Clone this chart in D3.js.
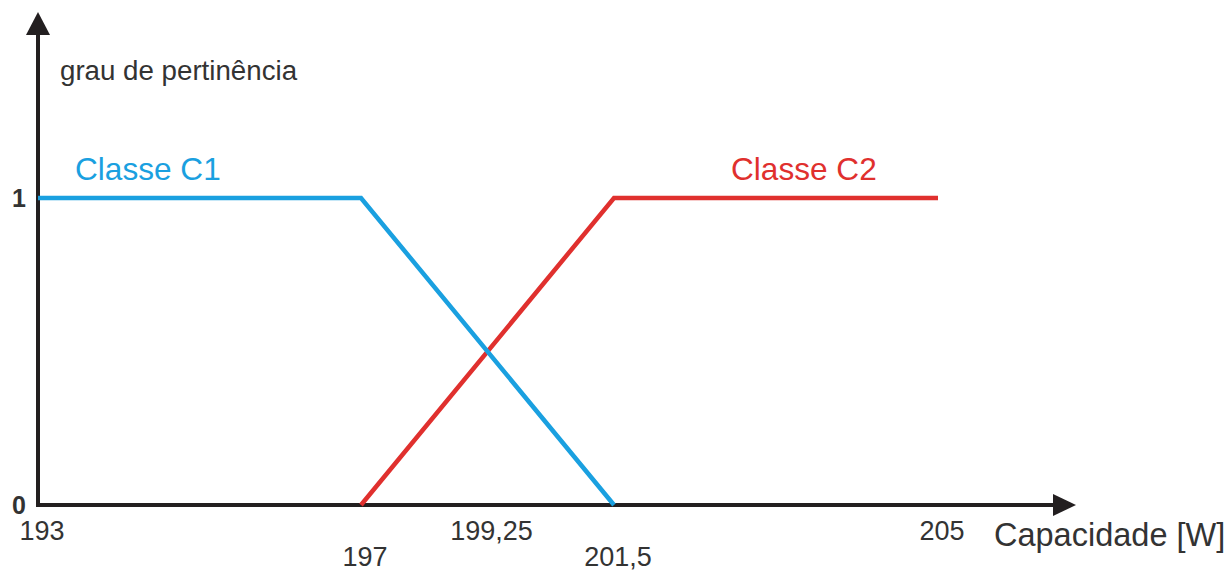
<!DOCTYPE html>
<html>
<head>
<meta charset="utf-8">
<script src="https://cdn.jsdelivr.net/npm/d3@7"></script>
<style>
  html, body { margin: 0; padding: 0; background: #fff; }
  svg { display: block; font-family: "Liberation Sans", Arial, sans-serif; }
</style>
</head>
<body>
<svg id="chart" width="1229" height="574"></svg>
<script>
// Fuzzy membership functions for the capacity classes
const xTicks = [193, 197, 199.25, 201.5, 205];
const xTickLabels = ["193", "197", "199,25", "201,5", "205"];
const yTicks = [0, 1];
const yTickLabels = ["0", "1"];

const classC1X = [193, 197, 201.5];
const classC1Y = [1, 1, 0];
const classC2X = [197, 201.5, 205];
const classC2Y = [0, 1, 1];

const seriesNames = ["Classe C1", "Classe C2"];
const xAxisTitle = "Capacidade [W]";
const yAxisTitle = "grau de pertinência";

const svg = d3.select("#chart");
const axisColor = "#231f20";
const textColor = "#333333";
const blue = "#1aa0e0";
const red = "#e0302e";

// Piecewise linear capacity axis (schematic, not proportional)
const x = d3.scaleLinear()
  .domain([193, 197, 201.5, 205])
  .range([38, 361, 614, 938]);
const y = d3.scaleLinear().domain([0, 1]).range([505, 198]);

const x0 = x(193), y0 = y(0);

// Axes with arrowheads
svg.append("line")
  .attr("x1", x0).attr("y1", y0 + 2)
  .attr("x2", x0).attr("y2", 32)
  .attr("stroke", axisColor).attr("stroke-width", 4);
svg.append("path")
  .attr("d", `M${x0},12 L${x0 + 12},35 L${x0 - 12},35 Z`)
  .attr("fill", axisColor);

svg.append("line")
  .attr("x1", x0 - 2).attr("y1", y0)
  .attr("x2", 1056).attr("y2", y0)
  .attr("stroke", axisColor).attr("stroke-width", 4);
svg.append("path")
  .attr("d", `M1076,${y0} L1053,${y0 - 11} L1053,${y0 + 11} Z`)
  .attr("fill", axisColor);

// Membership lines
const line = d3.line().x(d => x(d[0])).y(d => y(d[1]));
svg.append("path")
  .datum(d3.zip(classC2X, classC2Y))
  .attr("d", line)
  .attr("fill", "none").attr("stroke", red).attr("stroke-width", 4.5)
  .attr("stroke-linejoin", "miter");
svg.append("path")
  .datum(d3.zip(classC1X, classC1Y))
  .attr("d", line)
  .attr("fill", "none").attr("stroke", blue).attr("stroke-width", 4.5)
  .attr("stroke-linejoin", "miter");

// Tick labels on the capacity axis, staggered in two rows
svg.selectAll("text.xtick")
  .data(xTicks)
  .join("text")
  .attr("class", "xtick")
  .attr("x", d => x(d) + 4)
  .attr("y", (d, i) => i % 2 === 0 ? 540 : 566)
  .attr("text-anchor", "middle")
  .attr("font-size", 27)
  .attr("fill", textColor)
  .text((d, i) => xTickLabels[i]);

svg.selectAll("text.ytick")
  .data(yTicks)
  .join("text")
  .attr("class", "ytick")
  .attr("x", 26)
  .attr("y", d => y(d) + 9)
  .attr("text-anchor", "end")
  .attr("font-size", 25)
  .attr("font-weight", "bold")
  .attr("fill", textColor)
  .text((d, i) => yTickLabels[i]);

// Axis titles
svg.append("text")
  .attr("x", 994).attr("y", 546)
  .attr("font-size", 32.5)
  .attr("fill", textColor)
  .text(xAxisTitle);
svg.append("text")
  .attr("x", 60).attr("y", 80)
  .attr("font-size", 27.7)
  .attr("fill", textColor)
  .text(yAxisTitle);

// Series labels
svg.append("text")
  .attr("x", 75).attr("y", 180)
  .attr("font-size", 31.6)
  .attr("fill", blue)
  .text(seriesNames[0]);
svg.append("text")
  .attr("x", 731).attr("y", 180)
  .attr("font-size", 31.6)
  .attr("fill", red)
  .text(seriesNames[1]);
</script>
</body>
</html>
